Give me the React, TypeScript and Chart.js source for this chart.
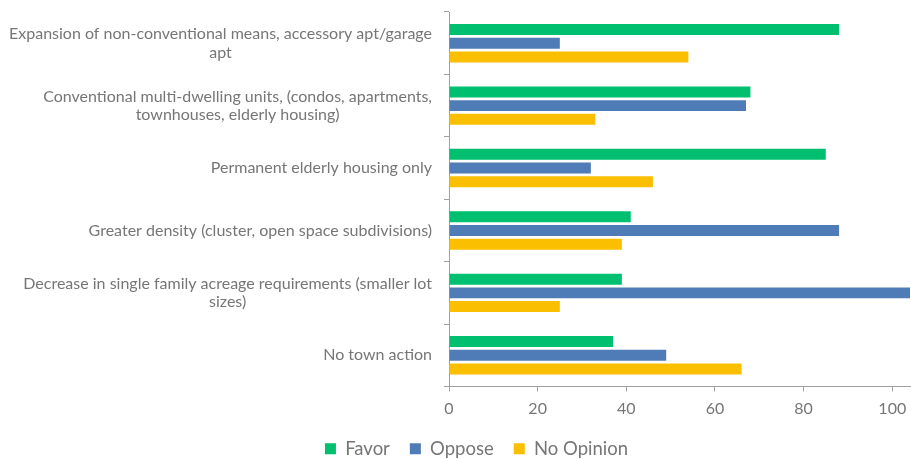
import React, { useEffect, useRef } from "react";
import { Chart, registerables } from "chart.js";

Chart.register(...registerables);

const categories: string[][] = [
  ["Expansion of non-conventional means, accessory apt/garage", "apt"],
  ["Conventional multi-dwelling units, (condos, apartments,", "townhouses, elderly housing)"],
  ["Permanent elderly housing only"],
  ["Greater density (cluster, open space subdivisions)"],
  ["Decrease in single family acreage requirements (smaller lot", "sizes)"],
  ["No town action"],
];

const favor = [88, 68, 85, 41, 39, 37];
const oppose = [25, 67, 32, 88, 105, 49];
const noOpinion = [54, 33, 46, 39, 25, 66];

const xMin = 0;
const xMax = 104;
const xStep = 20;

const FONT = "Lato, 'Open Sans', sans-serif";
const TEXT_COLOR = "#767676";
const AXIS_COLOR = "#a0a0a0";

const yLabelPlugin = {
  id: "yLabelBlocks",
  afterDraw(chart: any) {
    const scale = chart.scales.y;
    const ctx = chart.ctx;
    ctx.save();
    ctx.font = `16px ${FONT}`;
    ctx.fillStyle = TEXT_COLOR;
    ctx.textAlign = "center";
    ctx.textBaseline = "middle";
    const lh = 18.5;
    const rightEdge = chart.chartArea.left - 17;
    categories.forEach((lines, i) => {
      const y = scale.getPixelForTick(i);
      const w = Math.max(...lines.map((l) => ctx.measureText(l).width));
      const cx = rightEdge - w / 2;
      const y0 = y - ((lines.length - 1) * lh) / 2;
      lines.forEach((l, j) => ctx.fillText(l, cx, y0 + j * lh));
    });
    ctx.restore();
  },
};

export default function App() {
  const ref = useRef<HTMLCanvasElement>(null);
  useEffect(() => {
    if (!ref.current) return;
    const chart = new Chart(ref.current, {
      type: "bar",
      data: {
        labels: categories.map((c) => c.join(" ")),
        datasets: [
          { label: "Favor", data: favor, backgroundColor: "#00BF6F" },
          { label: "Oppose", data: oppose, backgroundColor: "#4F7CB6" },
          { label: "No Opinion", data: noOpinion, backgroundColor: "#FABF00" },
        ],
      },
      options: {
        indexAxis: "y",
        animation: false,
        responsive: true,
        maintainAspectRatio: false,
        datasets: {
          bar: { categoryPercentage: 0.66, barPercentage: 0.8 },
        },
        layout: { padding: { top: 12, right: 1, left: 43, bottom: -9 } },
        scales: {
          x: {
            type: "linear",
            min: xMin,
            max: xMax,
            ticks: {
              stepSize: xStep,
              includeBounds: false,
              color: TEXT_COLOR,
              font: { family: FONT, size: 16 },
              padding: 8,
            },
            grid: {
              drawOnChartArea: false,
              drawTicks: true,
              tickLength: 5,
              color: AXIS_COLOR,
            },
            border: { display: true, color: AXIS_COLOR, width: 1 },
            afterFit: (s: any) => {
              s.height = 33;
              s.paddingLeft = 0;
              s.paddingRight = 0;
            },
          },
          y: {
            type: "category",
            offset: true,
            ticks: { display: false },
            grid: {
              offset: true,
              drawOnChartArea: false,
              drawTicks: true,
              tickLength: 5,
              color: AXIS_COLOR,
            },
            border: { display: true, color: AXIS_COLOR, width: 1 },
            afterFit: (s: any) => {
              s.width = 406;
            },
          },
        },
        plugins: {
          legend: {
            position: "bottom",
            labels: {
              boxWidth: 11,
              boxHeight: 11,
              padding: 20,
              color: TEXT_COLOR,
              font: { family: FONT, size: 18.5 },
            },
          },
          tooltip: { enabled: false },
        },
      },
      plugins: [yLabelPlugin],
    });
    return () => chart.destroy();
  }, []);
  return (
    <div style={{ position: "fixed", left: 0, top: 0, width: 911, height: 459, background: "#fff" }}>
      <canvas ref={ref} />
    </div>
  );
}
